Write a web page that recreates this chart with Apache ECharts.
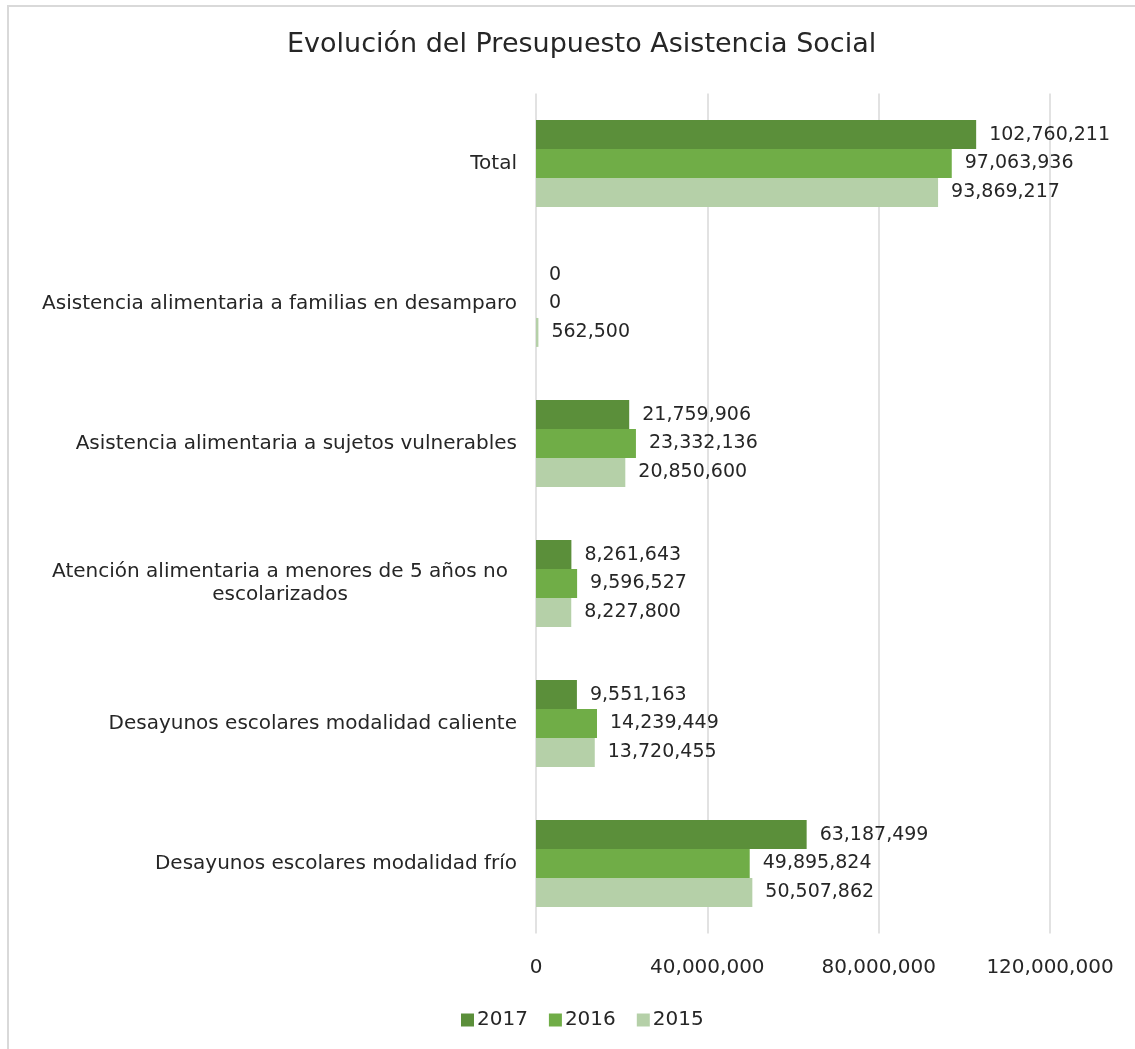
<!DOCTYPE html>
<html>
<head>
<meta charset="utf-8">
<script src="https://cdn.jsdelivr.net/npm/echarts@6/dist/echarts.min.js"></script>
<style>html,body{margin:0;padding:0;background:#fff}#c{width:1135px;height:1049px}</style>
</head>
<body>
<div id="c"></div>
<script>
const categories = [
  'Desayunos escolares modalidad frío',
  'Desayunos escolares modalidad caliente',
  'Atención alimentaria a menores de 5 años no escolarizados',
  'Asistencia alimentaria a sujetos vulnerables',
  'Asistencia alimentaria a familias en desamparo',
  'Total'
];
const values2017 = [63187499, 9551163, 8261643, 21759906, 0, 102760211];
const values2016 = [49895824, 14239449, 9596527, 23332136, 0, 97063936];
const values2015 = [50507862, 13720455, 8227800, 20850600, 562500, 93869217];
const seriesNames = ['2017', '2016', '2015'];
const xTicks = { min: 0, max: 120000000, interval: 40000000 };

const FONT = 'DejaVu Sans';
const TXT = '#262626';
const fmt = v => Number(v).toLocaleString('en-US');

const chart = echarts.init(document.getElementById('c'));
const colors = ['#5b8f3a', '#70ad47', '#b5d0a8'];
const data = [values2017, values2016, values2015];

chart.setOption({
  animation: false,
  textStyle: { fontFamily: FONT },
  title: {
    text: 'Evolución del Presupuesto Asistencia Social',
    left: 282, top: 26,
    textStyle: { fontFamily: FONT, fontSize: 27, fontWeight: 'normal', color: TXT }
  },
  legend: {
    data: seriesNames,
    bottom: 14, left: 456,
    itemWidth: 13, itemHeight: 13, itemGap: 21,
    icon: 'rect',
    textStyle: { fontFamily: FONT, fontSize: 20, color: TXT, padding: [0, 0, 0, -2] }
  },
  graphic: [{
    type: 'rect', silent: true, z: -1,
    shape: { x: 8, y: 6, width: 1200, height: 1100 },
    style: { fill: 'none', stroke: '#d9d9d9', lineWidth: 2 }
  }],
  grid: { left: 536, right: 85, top: 93.5, bottom: 115.5, containLabel: false },
  xAxis: {
    type: 'value',
    min: xTicks.min, max: xTicks.max, interval: xTicks.interval,
    axisLine: { show: false }, axisTick: { show: false },
    splitLine: { lineStyle: { color: '#d9d9d9', width: 1.5 } },
    axisLabel: { formatter: fmt, fontFamily: FONT, fontSize: 20, color: TXT, margin: 24 }
  },
  yAxis: {
    type: 'category',
    data: categories,
    axisLine: { show: false }, axisTick: { show: false },
    axisLabel: {
      fontFamily: FONT, fontSize: 20, color: TXT, margin: 19,
      formatter: function (v) {
        if (v.indexOf('menores de 5') >= 0) {
          return '{w|Atención alimentaria a menores de 5 años no}\n{w|escolarizados}';
        }
        return v;
      },
      rich: {
        w: { width: 474, align: 'center', fontFamily: FONT, fontSize: 20, color: TXT, lineHeight: 23 }
      }
    }
  },
  series: seriesNames.map((n, i) => ({
    name: n,
    type: 'bar',
    data: data[i],
    barGap: '0%',
    barCategoryGap: '38%',
    itemStyle: { color: colors[i] },
    label: {
      show: true, position: 'right', distance: 13,
      formatter: p => fmt(p.value),
      fontFamily: FONT, fontSize: 19, color: TXT
    }
  }))
});
</script>
</body>
</html>
